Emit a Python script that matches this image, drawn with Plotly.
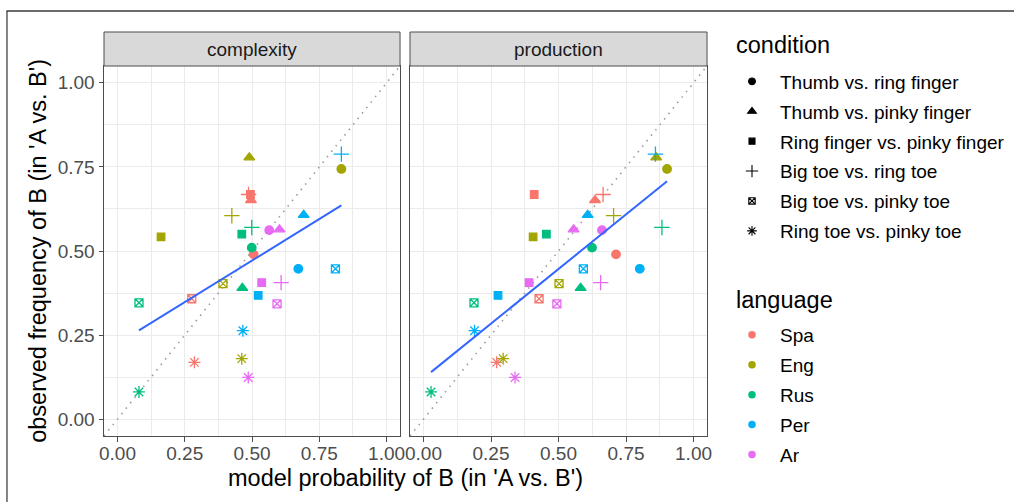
import numpy as np
import plotly.graph_objects as go

# ---------------- data ----------------
languages = ["Spa", "Eng", "Rus", "Per", "Ar"]
lang_colors = ["#F8766D", "#A3A500", "#00BF7D", "#00B0F6", "#E76BF3"]
conditions = ["Thumb vs. ring finger", "Thumb vs. pinky finger",
              "Ring finger vs. pinky finger", "Big toe vs. ring toe",
              "Big toe vs. pinky toe", "Ring toe vs. pinky toe"]
panels = ["complexity", "production"]
tick_vals = [0.0, 0.25, 0.5, 0.75, 1.0]
tick_text = ["0.00", "0.25", "0.50", "0.75", "1.00"]

# observed frequency of B, per condition, languages in order Spa, Eng, Rus, Per, Ar
obs_thumb_ring = [0.490, 0.744, 0.510, 0.447, 0.562]
obs_thumb_pinky = [0.651, 0.778, 0.390, 0.607, 0.564]
obs_ring_pinky_finger = [0.668, 0.542, 0.550, 0.368, 0.406]
obs_big_ring_toe = [0.668, 0.605, 0.570, 0.788, 0.406]
obs_big_pinky_toe = [0.358, 0.403, 0.346, 0.447, 0.343]
obs_ring_pinky_toe = [0.169, 0.180, 0.081, 0.263, 0.124]

# model probability of B - complexity model
cpx_thumb_ring = [0.506, 0.832, 0.499, 0.672, 0.564]
cpx_thumb_pinky = [0.496, 0.490, 0.464, 0.692, 0.602]
cpx_ring_pinky_finger = [0.494, 0.162, 0.462, 0.523, 0.536]
cpx_big_ring_toe = [0.487, 0.425, 0.499, 0.832, 0.608]
cpx_big_pinky_toe = [0.276, 0.392, 0.080, 0.810, 0.593]
cpx_ring_pinky_toe = [0.286, 0.462, 0.080, 0.466, 0.486]

# model probability of B - production model
prd_thumb_ring = [0.713, 0.902, 0.624, 0.801, 0.661]
prd_thumb_pinky = [0.635, 0.862, 0.582, 0.608, 0.556]
prd_ring_pinky_finger = [0.410, 0.406, 0.455, 0.276, 0.391]
prd_big_ring_toe = [0.665, 0.704, 0.883, 0.859, 0.656]
prd_big_pinky_toe = [0.428, 0.502, 0.187, 0.592, 0.494]
prd_ring_pinky_toe = [0.271, 0.295, 0.028, 0.189, 0.339]

observed = [obs_thumb_ring, obs_thumb_pinky, obs_ring_pinky_finger,
            obs_big_ring_toe, obs_big_pinky_toe, obs_ring_pinky_toe]
model_x = {
    "complexity": [cpx_thumb_ring, cpx_thumb_pinky, cpx_ring_pinky_finger,
                   cpx_big_ring_toe, cpx_big_pinky_toe, cpx_ring_pinky_toe],
    "production": [prd_thumb_ring, prd_thumb_pinky, prd_ring_pinky_finger,
                   prd_big_ring_toe, prd_big_pinky_toe, prd_ring_pinky_toe],
}

# ---------------- style ----------------
FONT = "Liberation Sans, Arial, sans-serif"
symbols = ["circle", "triangle-up", "square", "cross-thin-open", "square-x-open", "asterisk-open"]
sizes = [8.5, 9.5, 7.5, 11, 8, 10]
ax_range = [-0.05, 1.05]

W, H = 1014, 502
ML, MR, MT, MB = 104, 304, 66, 66
PW, PH = W - ML - MR, H - MT - MB


def px_x(p):
    return (p - ML) / PW


def px_y(p):
    return (H - MB - p) / PH


fig = go.Figure()
axes = [("x", "y"), ("x2", "y2")]

for (xa, ya), panel in zip(axes, panels):
    # identity reference line across the panel
    fig.add_trace(go.Scatter(x=ax_range, y=ax_range, mode="lines", xaxis=xa, yaxis=ya,
                             line=dict(color="#9a9a9a", width=1.6, dash="1.5px,5.5px"),
                             showlegend=False, hoverinfo="skip"))
    for ci, cond in enumerate(conditions):
        fig.add_trace(go.Scatter(
            x=model_x[panel][ci], y=observed[ci], mode="markers", xaxis=xa, yaxis=ya,
            marker=dict(symbol=symbols[ci], size=sizes[ci], color=lang_colors,
                        line=dict(width=1.3, color=lang_colors)),
            showlegend=False, name=cond))
    # linear fit (lm) over all points of the panel
    xs = np.concatenate([np.array(v) for v in model_x[panel]])
    ys = np.concatenate([np.array(v) for v in observed])
    slope, icpt = np.polyfit(xs, ys, 1)
    lx = np.array([xs.min(), xs.max()])
    fig.add_trace(go.Scatter(x=lx, y=icpt + slope * lx, mode="lines", xaxis=xa, yaxis=ya,
                             line=dict(color="#3366FF", width=2), showlegend=False,
                             hoverinfo="skip"))

# legend entries
for ci, cond in enumerate(conditions):
    fig.add_trace(go.Scatter(x=[None], y=[None], mode="markers", name=cond, legend="legend",
                             legendgroup="c%d" % ci,
                             marker=dict(symbol=symbols[ci], size=sizes[ci] * 0.8, color="black",
                                         line=dict(width=1.1, color="black"))))
for li, lang in enumerate(languages):
    fig.add_trace(go.Scatter(x=[None], y=[None], mode="markers", name=lang, legend="legend2",
                             legendgroup="l%d" % li,
                             marker=dict(symbol="circle", size=7.5, color=lang_colors[li])))

axis_common = dict(range=ax_range, tickmode="array", tickvals=tick_vals, ticktext=tick_text,
                   showline=True, mirror=True, linecolor="#4d4d4d", linewidth=1,
                   showgrid=True, gridcolor="#EBEBEB", gridwidth=1.3, zeroline=False,
                   minor=dict(showgrid=True, gridcolor="#EBEBEB", gridwidth=0.7,
                              tickmode="linear", tick0=0.125, dtick=0.25, ticks=""),
                   tickfont=dict(family=FONT, size=19, color="#4D4D4D"))

legend_common = dict(font=dict(size=19, family=FONT), xanchor="left", yanchor="top",
                     xref="container", yref="container",
                     tracegroupgap=2.2, itemwidth=46, bgcolor="rgba(0,0,0,0)")

fig.update_layout(
    width=W, height=H, autosize=False, margin=dict(l=ML, r=MR, t=MT, b=MB),
    paper_bgcolor="white", plot_bgcolor="white",
    font=dict(family=FONT, color="black"),
    xaxis=dict(domain=[0, px_x(401.5)], anchor="y", ticks="outside", ticklen=4.5,
               tickcolor="#4d4d4d", ticklabelstandoff=-4, **axis_common),
    xaxis2=dict(domain=[px_x(411.5), 1], anchor="y2", ticks="outside", ticklen=4.5,
                tickcolor="#4d4d4d", ticklabelstandoff=-4, **axis_common),
    yaxis=dict(domain=[0, 1], anchor="x", ticks="outside", ticklen=4.5,
               tickcolor="#4d4d4d", **axis_common),
    yaxis2=dict(domain=[0, 1], anchor="x2", matches="y", showticklabels=False, ticks="",
                **axis_common),
    legend=dict(x=724 / W, y=1 - 62.5 / H, **legend_common),
    legend2=dict(x=724 / W, y=1 - 316 / H, **legend_common),
)

# legend titles
for title, ty in [("condition", 44.5), ("language", 300)]:
    fig.add_annotation(text=title, xref="paper", yref="paper", x=px_x(737), y=px_y(ty),
                       showarrow=False, xanchor="left", yanchor="middle",
                       font=dict(size=23.5, family=FONT, color="black"))

# facet strips
strip_h = 34 / PH
for xa, ya, panel in [("x", "y", "complexity"), ("x2", "y2", "production")]:
    fig.add_shape(type="rect", xref=xa + " domain", yref=ya + " domain",
                  x0=0, x1=1, y0=1, y1=1 + strip_h,
                  fillcolor="#D9D9D9", line=dict(color="#4d4d4d", width=1))
    fig.add_annotation(text=panel, xref=xa + " domain", yref=ya + " domain",
                       x=0.5, y=1 + strip_h / 2, showarrow=False,
                       font=dict(size=19, color="#1A1A1A", family=FONT),
                       xanchor="center", yanchor="middle")

# axis titles
fig.add_annotation(text="model probability of B (in 'A vs. B')", xref="paper", yref="paper",
                   x=px_x(406.8), y=px_y(478), showarrow=False,
                   xanchor="center", yanchor="middle", font=dict(size=23.5, family=FONT))
fig.add_annotation(text="observed frequency of B (in 'A vs. B')", xref="paper", yref="paper",
                   x=px_x(37.5), y=0.5, showarrow=False, textangle=-90,
                   xanchor="center", yanchor="middle", font=dict(size=23.5, family=FONT))

# outer frame (top and left edges)
fig.add_shape(type="line", xref="paper", yref="paper", x0=px_x(6), x1=px_x(1040),
              y0=px_y(11), y1=px_y(11), line=dict(color="#6b6b6b", width=2))
fig.add_shape(type="line", xref="paper", yref="paper", x0=px_x(6.5), x1=px_x(6.5),
              y0=px_y(11), y1=px_y(502), line=dict(color="#333333", width=1.2))

fig.write_html("out.html", config={"displayModeBar": False, "responsive": False},
               post_script="document.body.style.margin='0';")
